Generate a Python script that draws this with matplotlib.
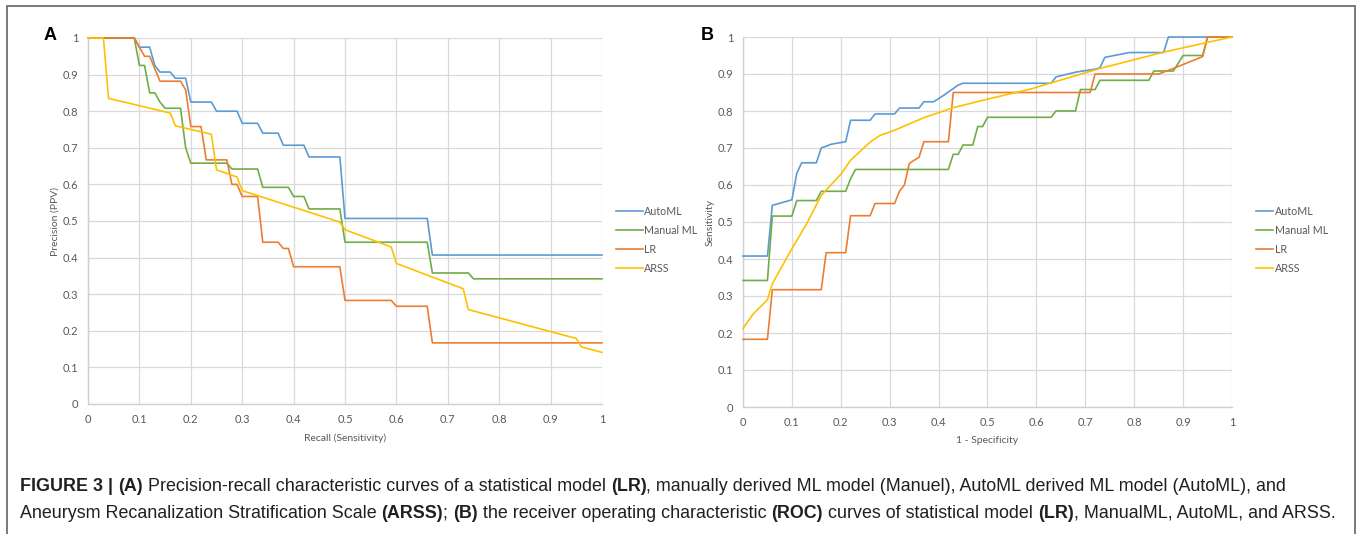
import matplotlib
matplotlib.use("Agg")
import matplotlib.pyplot as plt
from matplotlib.ticker import MultipleLocator, FuncFormatter
from matplotlib.patches import Rectangle

# ---------------- data ----------------
series_names = ["AutoML", "Manual ML", "LR", "ARSS"]
series_colors = ["#5B9BD5", "#70AD47", "#ED7D31", "#FFC000"]

# Panel A: precision-recall
pr_recall_automl = [0, 0.09, 0.10, 0.12, 0.13, 0.14, 0.16, 0.17, 0.19, 0.20, 0.24, 0.25, 0.29, 0.30,
                    0.33, 0.34, 0.37, 0.38, 0.42, 0.43, 0.49, 0.50, 0.66, 0.67, 1.0]
pr_precision_automl = [1, 1, 0.975, 0.975, 0.925, 0.907, 0.907, 0.89, 0.89, 0.825, 0.825, 0.80, 0.80,
                       0.767, 0.767, 0.74, 0.74, 0.707, 0.707, 0.675, 0.675, 0.507, 0.507, 0.407, 0.407]

pr_recall_manual = [0, 0.09, 0.10, 0.11, 0.12, 0.13, 0.14, 0.15, 0.18, 0.19, 0.20, 0.27, 0.28, 0.33,
                    0.34, 0.39, 0.40, 0.42, 0.43, 0.49, 0.50, 0.66, 0.67, 0.74, 0.75, 1.0]
pr_precision_manual = [1, 1, 0.925, 0.925, 0.85, 0.85, 0.825, 0.808, 0.808, 0.70, 0.658, 0.658, 0.642,
                       0.642, 0.592, 0.592, 0.567, 0.567, 0.533, 0.533, 0.442, 0.442, 0.358, 0.358,
                       0.342, 0.342]

pr_recall_lr = [0, 0.09, 0.11, 0.12, 0.14, 0.18, 0.19, 0.20, 0.22, 0.23, 0.27, 0.28, 0.29, 0.30, 0.33,
                0.34, 0.37, 0.38, 0.39, 0.40, 0.49, 0.50, 0.59, 0.60, 0.66, 0.67, 1.0]
pr_precision_lr = [1, 1, 0.95, 0.95, 0.882, 0.882, 0.858, 0.758, 0.758, 0.667, 0.667, 0.60, 0.60,
                   0.567, 0.567, 0.442, 0.442, 0.425, 0.425, 0.375, 0.375, 0.283, 0.283, 0.267,
                   0.267, 0.167, 0.167]

pr_recall_arss = [0, 0.03, 0.04, 0.16, 0.17, 0.24, 0.25, 0.29, 0.30, 0.49, 0.50, 0.59, 0.60, 0.73,
                  0.74, 0.95, 0.96, 1.0]
pr_precision_arss = [1, 1, 0.835, 0.795, 0.76, 0.737, 0.64, 0.62, 0.583, 0.497, 0.476, 0.429, 0.384,
                     0.315, 0.258, 0.179, 0.156, 0.141]

# Panel B: ROC
roc_fpr_automl = [0, 0.05, 0.06, 0.10, 0.11, 0.12, 0.15, 0.16, 0.18, 0.21, 0.22, 0.26, 0.27, 0.31,
                  0.32, 0.36, 0.37, 0.39, 0.41, 0.44, 0.45, 0.63, 0.64, 0.68, 0.72, 0.73, 0.74, 0.79,
                  0.86, 0.87, 1.0]
roc_tpr_automl = [0.408, 0.408, 0.545, 0.56, 0.632, 0.66, 0.66, 0.70, 0.71, 0.717, 0.775, 0.775,
                  0.792, 0.792, 0.808, 0.808, 0.825, 0.825, 0.842, 0.87, 0.875, 0.875, 0.892, 0.905,
                  0.913, 0.917, 0.945, 0.958, 0.958, 1.0, 1.0]

roc_fpr_manual = [0, 0.05, 0.06, 0.10, 0.11, 0.15, 0.16, 0.21, 0.22, 0.23, 0.42, 0.43, 0.44, 0.45,
                  0.47, 0.48, 0.49, 0.50, 0.63, 0.64, 0.68, 0.69, 0.72, 0.73, 0.83, 0.84, 0.88, 0.90,
                  0.94, 0.95, 1.0]
roc_tpr_manual = [0.342, 0.342, 0.516, 0.516, 0.558, 0.558, 0.583, 0.583, 0.617, 0.642, 0.642, 0.683,
                  0.683, 0.708, 0.708, 0.758, 0.758, 0.783, 0.783, 0.80, 0.80, 0.858, 0.858, 0.883,
                  0.883, 0.908, 0.908, 0.95, 0.95, 1.0, 1.0]

roc_fpr_lr = [0, 0.05, 0.06, 0.16, 0.17, 0.21, 0.22, 0.26, 0.27, 0.31, 0.32, 0.33, 0.34, 0.35, 0.36,
              0.37, 0.42, 0.43, 0.71, 0.72, 0.85, 0.88, 0.94, 0.95, 1.0]
roc_tpr_lr = [0.183, 0.183, 0.317, 0.317, 0.417, 0.417, 0.517, 0.517, 0.55, 0.55, 0.583, 0.60, 0.658,
              0.667, 0.675, 0.717, 0.717, 0.85, 0.85, 0.90, 0.90, 0.915, 0.947, 1.0, 1.0]

roc_fpr_arss = [0, 0.02, 0.05, 0.06, 0.10, 0.13, 0.16, 0.20, 0.22, 0.26, 0.28, 0.31, 0.37, 0.43,
                0.50, 0.59, 0.63, 0.73, 0.86, 1.0]
roc_tpr_arss = [0.212, 0.25, 0.29, 0.333, 0.428, 0.495, 0.572, 0.629, 0.667, 0.716, 0.734, 0.748,
                0.782, 0.809, 0.832, 0.86, 0.876, 0.915, 0.959, 1.0]

caption_line1 = [("FIGURE 3 | ", True), ("(A)", True),
                 (" Precision-recall characteristic curves of a statistical model ", False),
                 ("(LR)", True),
                 (", manually derived ML model (Manuel), AutoML derived ML model (AutoML), and", False)]
caption_line2 = [("Aneurysm Recanalization Stratification Scale ", False), ("(ARSS)", True),
                 ("; ", False), ("(B)", True), (" the receiver operating characteristic ", False),
                 ("(ROC)", True), (" curves of statistical model ", False), ("(LR)", True),
                 (", ManualML, AutoML, and ARSS.", False)]

# ---------------- figure ----------------
W, H = 1360, 534
fig = plt.figure(figsize=(W / 100, H / 100), dpi=100)
fig.patch.set_facecolor("white")

chart_font = ["Lato", "DejaVu Sans"]
tick_color = "#595959"
grid_color = "#D9D9D9"


def px_axes(x0, y_top, x1, y_bottom):
    return fig.add_axes([x0 / W, 1 - y_bottom / H, (x1 - x0) / W, (y_bottom - y_top) / H])


def style_axes(ax, xlabel, ylabel, ylabelpad):
    ax.set_xlim(0, 1)
    ax.set_ylim(0, 1)
    ax.xaxis.set_major_locator(MultipleLocator(0.1))
    ax.yaxis.set_major_locator(MultipleLocator(0.1))
    fmt = FuncFormatter(lambda v, p: f"{v:g}")
    ax.xaxis.set_major_formatter(fmt)
    ax.yaxis.set_major_formatter(fmt)
    ax.grid(True, color=grid_color, lw=0.9, zorder=0)
    ax.set_axisbelow(True)
    for s in ["top", "right"]:
        ax.spines[s].set_visible(False)
    for s in ["left", "bottom"]:
        ax.spines[s].set_color("#D0D0D0")
        ax.spines[s].set_linewidth(1.0)
    ax.tick_params(length=0, labelsize=8, colors=tick_color, pad=7)
    for lab in ax.get_xticklabels() + ax.get_yticklabels():
        lab.set_family(chart_font)
    ax.set_xlabel(xlabel, fontsize=7.5, color=tick_color, family=chart_font, labelpad=6)
    ax.set_ylabel(ylabel, fontsize=7.5, color=tick_color, family=chart_font, labelpad=ylabelpad)
    ax.set_facecolor("white")


axA = px_axes(88, 38, 602, 404)
axB = px_axes(743, 37, 1232, 407)

pr_series = [(pr_recall_automl, pr_precision_automl), (pr_recall_manual, pr_precision_manual),
             (pr_recall_lr, pr_precision_lr), (pr_recall_arss, pr_precision_arss)]
roc_series = [(roc_fpr_automl, roc_tpr_automl), (roc_fpr_manual, roc_tpr_manual),
              (roc_fpr_lr, roc_tpr_lr), (roc_fpr_arss, roc_tpr_arss)]

for (x, y), name, col in zip(pr_series, series_names, series_colors):
    axA.plot(x, y, color=col, lw=1.2, label=name, clip_on=False, zorder=3)
for (x, y), name, col in zip(roc_series, series_names, series_colors):
    axB.plot(x, y, color=col, lw=1.2, label=name, clip_on=False, zorder=3)

style_axes(axA, "Recall (Sensitivity)", "Precision (PPV)", 2)
style_axes(axB, "1 - Specificity", "Sensitivity", 2)

legA = axA.legend(loc="center left", bbox_to_anchor=(606 / W, 1 - 240 / H),
                  bbox_transform=fig.transFigure, frameon=False,
                  handlelength=2.6, handletextpad=0.05, labelspacing=0.75,
                  prop={"family": chart_font, "size": 7.7})
legB = axB.legend(loc="center left", bbox_to_anchor=(1246 / W, 1 - 240 / H),
                  bbox_transform=fig.transFigure, frameon=False,
                  handlelength=1.6, handletextpad=0.2, labelspacing=0.75,
                  prop={"family": chart_font, "size": 7.7})
for leg in (legA, legB):
    for t in leg.get_texts():
        t.set_color(tick_color)

# panel letters
fig.text(44 / W, 1 - 36 / H, "A", fontsize=13, fontweight="bold", family=["Liberation Sans"],
         va="center", ha="left")
fig.text(701 / W, 1 - 35 / H, "B", fontsize=13, fontweight="bold", family=["Liberation Sans"],
         va="center", ha="left")

# outer frame
fig.patches.append(Rectangle((7 / W, -0.02), (1355 - 7) / W, 1 - 6 / H + 0.02,
                             transform=fig.transFigure, fill=False, edgecolor="#6E6E6E", lw=1.3))

# caption
cap_font = ["Liberation Sans", "DejaVu Sans"]
renderer = fig.canvas.get_renderer()


def draw_segments(segments, x_px, y_px, size):
    x = x_px
    for txt, bold in segments:
        t = fig.text(x / W, 1 - y_px / H, txt, fontsize=size,
                     fontweight="bold" if bold else "normal", family=cap_font,
                     color="#231F20", va="baseline", ha="left")
        bb = t.get_window_extent(renderer)
        x += bb.width


draw_segments(caption_line1, 20, 491, 12.9)
draw_segments(caption_line2, 20, 518, 12.9)

fig.savefig("out.png", dpi=100, facecolor="white")
